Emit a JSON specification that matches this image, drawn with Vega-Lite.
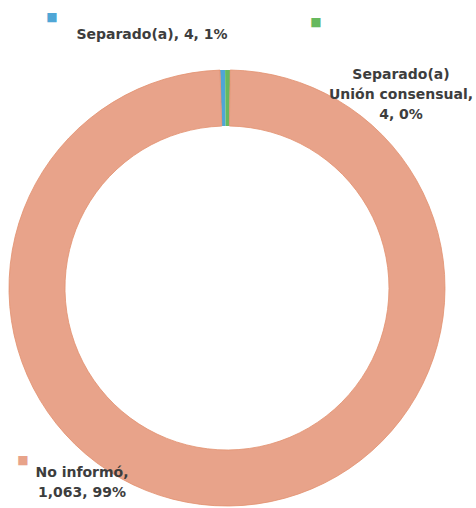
{
  "$schema": "https://vega.github.io/schema/vega-lite/v6.json",
  "width": 454,
  "height": 436,
  "autosize": {"type": "none"},
  "padding": {"left": 0, "top": 70, "right": 22, "bottom": 2},
  "background": "#ffffff",
  "view": {"stroke": null},
  "config": {"text": {"font": "DejaVu Sans", "fontWeight": "bold", "fill": "#3d3d3d"}},
  "data": {
    "values": [
      {"cat": "Separado(a)", "value": 4, "ord": 1, "label": "Separado(a), 4, 1%"},
      {"cat": "Separado(a) Unión consensual", "value": 4, "ord": 2, "label": "Separado(a)\nUnión consensual,\n4, 0%"},
      {"cat": "No informó", "value": 1063, "ord": 3, "label": "No informó,\n1,063, 99%"}
    ]
  },
  "layer": [
    {
      "mark": {"type": "arc", "outerRadius": 218, "innerRadius": 162, "strokeWidth": 0.8},
      "encoding": {
        "theta": {"field": "value", "type": "quantitative", "stack": true, "scale": {"range": [-0.0322, 6.2510]}},
        "order": {"field": "ord", "type": "quantitative"},
        "color": {
          "field": "cat", "type": "nominal", "legend": null,
          "scale": {"domain": ["Separado(a)", "Separado(a) Unión consensual", "No informó"], "range": ["#4fa6d6", "#66b95e", "#e8a38a"]}
        },
        "stroke": {"condition": {"test": "datum.ord === 3", "value": "#e2916f"}, "value": null}
      }
    },
    {
      "transform": [{"filter": "datum.ord === 1"}],
      "mark": {"type": "text", "align": "center", "baseline": "middle", "fontSize": 14, "dx": -75, "dy": -253},
      "encoding": {"text": {"field": "label"}}
    },
    {
      "transform": [{"filter": "datum.ord === 2"}],
      "mark": {"type": "text", "align": "center", "baseline": "middle", "fontSize": 14, "lineBreak": "\n", "lineHeight": 20, "dx": 174, "dy": -213},
      "encoding": {"text": {"field": "label"}}
    },
    {
      "transform": [{"filter": "datum.ord === 3"}],
      "mark": {"type": "text", "align": "center", "baseline": "middle", "fontSize": 14, "lineBreak": "\n", "lineHeight": 20, "dx": -145, "dy": 185},
      "encoding": {"text": {"field": "label"}}
    },
    {
      "transform": [{"filter": "datum.ord === 1"}],
      "mark": {"type": "text", "align": "center", "baseline": "middle", "fontSize": 12, "text": "■", "dx": -175, "dy": -271},
      "encoding": {"color": {"field": "cat", "type": "nominal", "legend": null}}
    },
    {
      "transform": [{"filter": "datum.ord === 2"}],
      "mark": {"type": "text", "align": "center", "baseline": "middle", "fontSize": 12, "text": "■", "dx": 89, "dy": -266},
      "encoding": {"color": {"field": "cat", "type": "nominal", "legend": null}}
    },
    {
      "transform": [{"filter": "datum.ord === 3"}],
      "mark": {"type": "text", "align": "center", "baseline": "middle", "fontSize": 12, "text": "■", "dx": -204, "dy": 172},
      "encoding": {"color": {"field": "cat", "type": "nominal", "legend": null}}
    }
  ]
}
